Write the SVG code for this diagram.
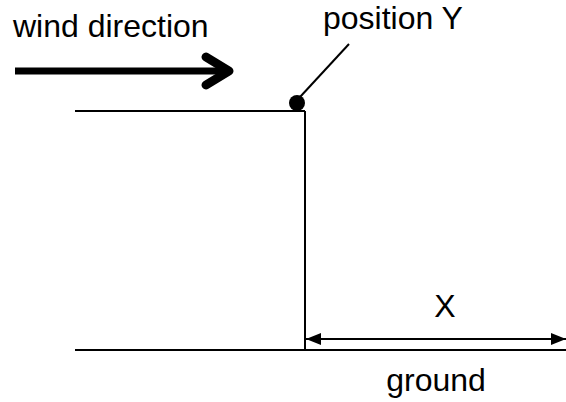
<svg xmlns="http://www.w3.org/2000/svg" width="566" height="402" viewBox="0 0 566 402">
<style>
text{font-family:"Liberation Sans",Arial,sans-serif;font-size:32px;fill:#000}
.ln{stroke:#000;stroke-width:2;fill:none}
</style>
<defs>
<marker id="ah" viewBox="0 0 15 12" refX="15" refY="6" markerWidth="15" markerHeight="12" markerUnits="userSpaceOnUse" orient="auto-start-reverse">
<path d="M0,0 L15,6 L0,12 Z" fill="#000"/>
</marker>
</defs>
<rect width="566" height="402" fill="#fff"/>
<g id="structure">
<line class="ln" x1="75" y1="111" x2="305" y2="111"/>
<line class="ln" x1="305" y1="111" x2="305" y2="350" stroke-width="2.5"/>
<line class="ln" x1="75" y1="350" x2="566" y2="350"/>
</g>
<g id="wind">
<text x="13" y="37">wind direction</text>
<line x1="15" y1="71" x2="224" y2="71" stroke="#000" stroke-width="7"/>
<polyline points="206,57 229,71 206,85" fill="none" stroke="#000" stroke-width="9" stroke-linecap="round" stroke-linejoin="round"/>
</g>
<g id="positionY">
<text x="323" y="29">position Y</text>
<circle cx="297" cy="103" r="8" fill="#000"/>
<line class="ln" x1="300" y1="97" x2="349" y2="44"/>
</g>
<g id="connectors">
<line class="ln" x1="306" y1="339" x2="566" y2="339" marker-start="url(#ah)" marker-end="url(#ah)"/>
</g>
<g id="labels">
<text x="445" y="317" text-anchor="middle">X</text>
<text x="436" y="391" text-anchor="middle">ground</text>
</g>
</svg>
